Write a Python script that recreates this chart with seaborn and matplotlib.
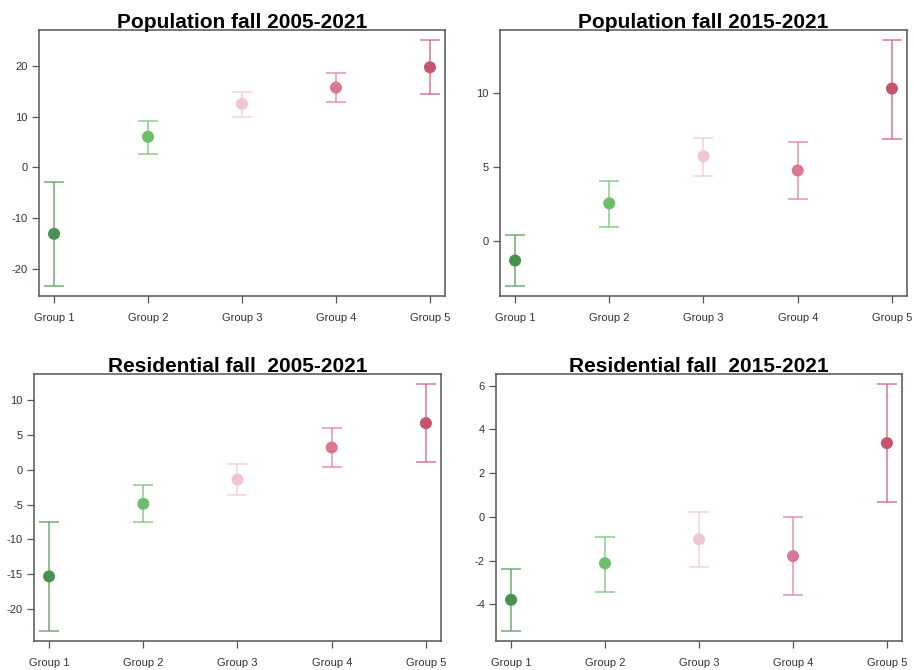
import numpy as np
import pandas as pd
import matplotlib
matplotlib.use("Agg")
import matplotlib.pyplot as plt
import seaborn as sns

sns.set_theme(style="white")
plt.rcParams["font.family"] = ["Liberation Sans", "DejaVu Sans"]

groups = ["Group 1", "Group 2", "Group 3", "Group 4", "Group 5"]
group_colors = ["#4a9150", "#6cbe6a", "#f0c6d4", "#da7891", "#c6546e"]

titles = [
    "Population fall 2005-2021",
    "Population fall 2015-2021",
    "Residential fall  2005-2021",
    "Residential fall  2015-2021",
]

# estimate, lower bound, upper bound for each panel
pop_0521_mean = [-13.1, 6.0, 12.5, 15.7, 19.7]
pop_0521_low = [-23.4, 2.7, 10.0, 12.9, 14.4]
pop_0521_high = [-2.8, 9.2, 14.8, 18.6, 25.1]

pop_1521_mean = [-1.30, 2.56, 5.74, 4.78, 10.31]
pop_1521_low = [-3.03, 0.99, 4.44, 2.83, 6.90]
pop_1521_high = [0.43, 4.07, 6.98, 6.72, 13.60]

res_0521_mean = [-15.36, -4.90, -1.39, 3.22, 6.73]
res_0521_low = [-23.25, -7.58, -3.69, 0.39, 1.11]
res_0521_high = [-7.58, -2.16, 0.82, 5.96, 12.39]

res_1521_mean = [-3.80, -2.13, -1.03, -1.80, 3.37]
res_1521_low = [-5.23, -3.43, -2.29, -3.60, 0.66]
res_1521_high = [-2.41, -0.91, 0.20, -0.03, 6.08]

yticks = [
    [-20, -10, 0, 10, 20],
    [0, 5, 10],
    [-20, -15, -10, -5, 0, 5, 10],
    [-4, -2, 0, 2, 4, 6],
]

panels = [
    (pop_0521_mean, pop_0521_low, pop_0521_high),
    (pop_1521_mean, pop_1521_low, pop_1521_high),
    (res_0521_mean, res_0521_low, res_0521_high),
    (res_1521_mean, res_1521_low, res_1521_high),
]

W, H = 914, 670
fig = plt.figure(figsize=(W / 100, H / 100), dpi=100)
fig.patch.set_facecolor("white")

# axes boxes in pixels: left, top, right, bottom
boxes = [
    (39, 30, 445, 296),
    (500, 30, 907, 296),
    (34, 374, 441, 641),
    (496, 374, 902, 641),
]

frame_color = "#555555"
text_color = "#333333"

for (mean, low, high), title, ticks, (l, t, r, b) in zip(panels, titles, yticks, boxes):
    ax = fig.add_axes([l / W, 1 - b / H, (r - l) / W, (b - t) / H])
    df = pd.DataFrame({
        "x": np.arange(1, 6),
        "group": groups,
        "mean": mean,
        "low": low,
        "high": high,
    })
    for i, row in df.iterrows():
        ax.errorbar(row["x"], row["mean"],
                    yerr=[[row["mean"] - row["low"]], [row["high"] - row["mean"]]],
                    fmt="none", ecolor=group_colors[i], alpha=0.65,
                    elinewidth=1.3, capsize=7.5, capthick=1.3, zorder=2)
    sns.scatterplot(data=df, x="x", y="mean", hue="group", palette=group_colors,
                    s=75, edgecolor="none", legend=False, ax=ax, zorder=3)

    span = max(high) - min(low)
    ax.set_ylim(min(low) - 0.04 * span, max(high) + 0.04 * span)
    ax.set_xlim(1 - 0.16, 5 + 0.16)
    ax.set_xticks(df["x"])
    ax.set_xticklabels(groups)
    ax.set_yticks(ticks)
    ax.set_yticklabels([str(v) for v in ticks])
    ax.set_xlabel("")
    ax.set_ylabel("")
    ax.tick_params(axis="both", which="major", direction="out", length=5,
                   width=0.9, color=frame_color, labelsize=8, labelcolor=text_color,
                   bottom=True, left=True)
    ax.tick_params(axis="x", pad=7)
    ax.tick_params(axis="y", pad=3)
    for sp in ax.spines.values():
        sp.set_visible(True)
        sp.set_color(frame_color)
        sp.set_linewidth(1.1)
    ax.set_facecolor("white")
    ax.set_title(title, fontsize=15, fontweight="bold", color="black", pad=1.5)

fig.savefig("out.png", dpi=100, facecolor="white")
